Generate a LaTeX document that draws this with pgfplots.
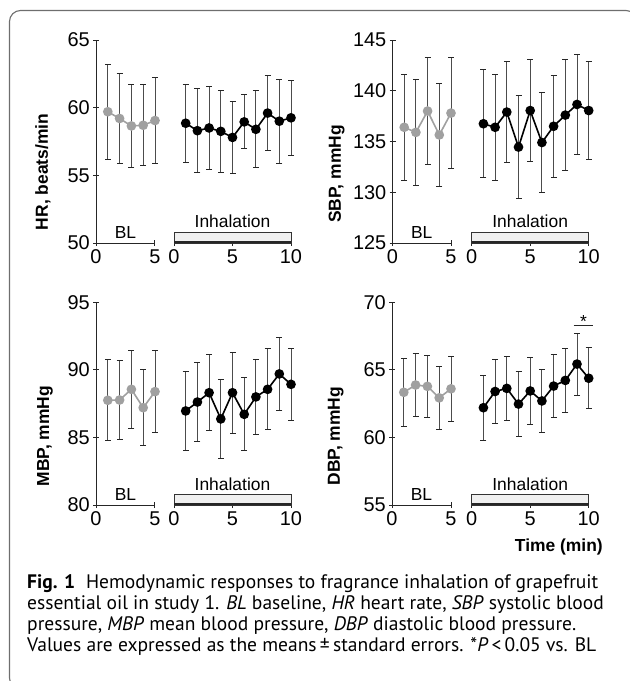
\documentclass[border=0pt]{standalone}
\usepackage{fontspec}
\setmainfont{Liberation Sans}
\newfontfamily\capfont{PT Sans}
\usepackage{pgfplots}
\usepackage{pgfplotstable}
\pgfplotsset{compat=1.18}

\definecolor{blgray}{RGB}{160,160,160}
\definecolor{framegray}{RGB}{110,110,110}

% means and standard errors
\pgfplotstableread{
x y e
1 59.70 3.50
2 59.20 3.35
3 58.65 3.10
4 58.70 3.00
5 59.05 3.15
}\hrbl
\pgfplotstableread{
x y e
1 58.85 2.90
2 58.30 3.10
3 58.50 3.10
4 58.25 3.00
5 57.80 2.65
6 58.95 2.00
7 58.40 2.85
8 59.60 2.75
9 59.00 3.10
10 59.25 2.75
}\hrinh
\pgfplotstableread{
x y e
1 136.40 5.20
2 135.90 5.25
3 138.00 5.27
4 135.65 5.05
5 137.80 5.50
}\sbpbl
\pgfplotstableread{
x y e
1 136.75 5.30
2 136.40 5.25
3 137.90 5.00
4 134.45 5.10
5 138.05 5.00
6 134.90 4.90
7 136.50 5.00
8 137.60 5.45
9 138.65 4.90
10 138.05 4.80
}\sbpinh
\pgfplotstableread{
x y e
1 87.75 3.00
2 87.77 2.90
3 88.56 2.90
4 87.20 2.80
5 88.39 3.05
}\mbpbl
\pgfplotstableread{
x y e
1 86.96 2.90
2 87.62 2.95
3 88.31 2.80
4 86.37 2.90
5 88.31 3.00
6 86.71 2.70
7 88.00 2.75
8 88.56 3.00
9 89.70 2.70
10 88.93 2.65
}\mbpinh
\pgfplotstableread{
x y e
1 63.34 2.50
2 63.88 2.35
3 63.78 2.27
4 62.93 2.35
5 63.60 2.38
}\dbpbl
\pgfplotstableread{
x y e
1 62.20 2.40
2 63.40 2.35
3 63.63 2.35
4 62.47 2.40
5 63.44 2.50
6 62.70 2.35
7 63.80 2.35
8 64.22 2.35
9 65.43 2.30
10 64.38 2.25
}\dbpinh

\pgfplotsset{
  panel/.style={scale only axis, clip=false, enlargelimits=false,
    tick align=outside, major tick length=6bp,
    tick label style={font=\fontsize{20}{22}\selectfont},
    yticklabel style={inner sep=3bp},
    /pgf/number format/assume math mode=true},
  nolinetips/.style={
    axis line style={-, draw=black!85, line width=1bp},
    x axis line style={-}, y axis line style={-},
    every tick/.style={black!85, line width=1bp}},
  bl/.style={panel, width=59bp, height=203bp, xmin=0, xmax=5, xtick={0,5},
    axis x line=bottom, axis y line=left, nolinetips,
    ylabel style={font=\bfseries\fontsize{17.5}{20}\selectfont, rotate=0, anchor=center}},
  inh/.style={panel, width=117bp, height=203bp, xmin=0, xmax=10, xtick={0,5,10},
    axis x line=bottom, axis y line=none, ytick=\empty, nolinetips},
  blplot/.style={color=blgray, line width=1.6bp, mark=*, mark size=4bp,
    mark options={solid, fill=blgray, draw=blgray},
    error bars/.cd, y dir=both, y explicit,
    error bar style={line width=0.9bp, black!70},
    error mark options={rotate=90, mark size=3bp, line width=0.9bp, black!85}},
  inhplot/.style={color=black, line width=1.6bp, mark=*, mark size=4bp,
    mark options={solid, fill=black},
    error bars/.cd, y dir=both, y explicit,
    error bar style={line width=0.9bp, black!70},
    error mark options={rotate=90, mark size=3bp, line width=0.9bp, black!85}},
}
\newcommand{\txt}{\fontsize{17.5}{20}\selectfont}
\newcommand{\inhbox}{%
  \draw[fill=black!6, draw=black!80, line width=0.9bp] (rel axis cs:0,0) rectangle (rel axis cs:1,0.054);
  \draw[black!85, line width=2.2bp] (rel axis cs:0,0.004) -- (rel axis cs:1,0.004);
  \node[font=\txt, anchor=base, inner sep=0] at (rel axis cs:0.5,0.074) {Inhalation};}
\newcommand{\bllabel}{%
  \node[font=\txt, anchor=base, inner sep=0] at (rel axis cs:0.5,0.02) {BL};}

\begin{document}
\begin{tikzpicture}
\useasboundingbox (0,0) rectangle (630bp,-681bp);
\begin{scope}
  \clip (0,0) rectangle (630bp,-681bp);
  \draw[framegray, line width=1.1bp, rounded corners=11bp] (9.5bp,-10.5bp) rectangle (637bp,-689bp);
\end{scope}

% HR
\begin{axis}[bl, at={(96bp,-243bp)}, anchor=south west, ymin=50, ymax=65, ytick={50,55,60,65},
  ylabel={HR, beats/min}, ylabel style={at={(axis description cs:-0.898,0.35)}}]
  \addplot[blplot] table[x=x, y=y, y error=e] {\hrbl};
  \bllabel
\end{axis}
\begin{axis}[inh, at={(174bp,-243bp)}, anchor=south west, ymin=50, ymax=65]
  \inhbox
  \addplot[inhplot] table[x=x, y=y, y error=e] {\hrinh};
\end{axis}

% SBP
\begin{axis}[bl, at={(392.5bp,-243bp)}, anchor=south west, width=58.5bp, ymin=125, ymax=145, ytick={125,130,135,140,145},
  ylabel={SBP, mmHg}, ylabel style={at={(axis description cs:-0.955,0.34)}}]
  \addplot[blplot] table[x=x, y=y, y error=e] {\sbpbl};
  \bllabel
\end{axis}
\begin{axis}[inh, at={(471.7bp,-243bp)}, anchor=south west, ymin=125, ymax=145]
  \inhbox
  \addplot[inhplot] table[x=x, y=y, y error=e] {\sbpinh};
\end{axis}

% MBP
\begin{axis}[bl, at={(96bp,-505bp)}, anchor=south west, height=202.7bp, ymin=80, ymax=95, ytick={80,85,90,95},
  ylabel={MBP, mmHg}, ylabel style={at={(axis description cs:-0.864,0.34)}}]
  \addplot[blplot] table[x=x, y=y, y error=e] {\mbpbl};
  \bllabel
\end{axis}
\begin{axis}[inh, at={(174bp,-505bp)}, anchor=south west, height=202.7bp, ymin=80, ymax=95]
  \inhbox
  \addplot[inhplot] table[x=x, y=y, y error=e] {\mbpinh};
\end{axis}

% DBP
\begin{axis}[bl, at={(392bp,-505bp)}, anchor=south west, height=202.7bp, ymin=55, ymax=70, ytick={55,60,65,70},
  ylabel={DBP, mmHg}, ylabel style={at={(axis description cs:-0.954,0.34)}}]
  \addplot[blplot] table[x=x, y=y, y error=e] {\dbpbl};
  \bllabel
\end{axis}
\begin{axis}[inh, at={(471.7bp,-505bp)}, anchor=south west, height=202.7bp, ymin=55, ymax=70]
  \inhbox
  \addplot[inhplot] table[x=x, y=y, y error=e] {\dbpinh};
  \draw[black!85, line width=0.9bp] (axis cs:8.72,68.3) -- (axis cs:10.34,68.3);
  \node[font=\txt, anchor=south, inner sep=0] at (axis cs:9.55,68.15) {*};
\end{axis}
\node[font=\bfseries\txt, anchor=east, inner sep=0] at (603bp,-547bp) {Time (min)};

% caption
\begin{scope}[every node/.style={anchor=base west, inner sep=0, font=\capfont\fontsize{19.6}{22}\selectfont}]
  \node at (27bp,-588bp) {\textbf{Fig. 1}\hspace{0.55em}Hemodynamic responses to fragrance inhalation of grapefruit};
  \node at (27bp,-609.3bp) {essential oil in study 1. \textit{BL} baseline, \textit{HR} heart rate, \textit{SBP} systolic blood};
  \node at (27bp,-630.5bp) {pressure, \textit{MBP} mean blood pressure, \textit{DBP} diastolic blood pressure.};
  \node at (27bp,-651.7bp) {Values are expressed as the means\,±\,standard errors. *\textit{P}\,<\,0.05 vs. BL};
\end{scope}
\end{tikzpicture}
\end{document}
